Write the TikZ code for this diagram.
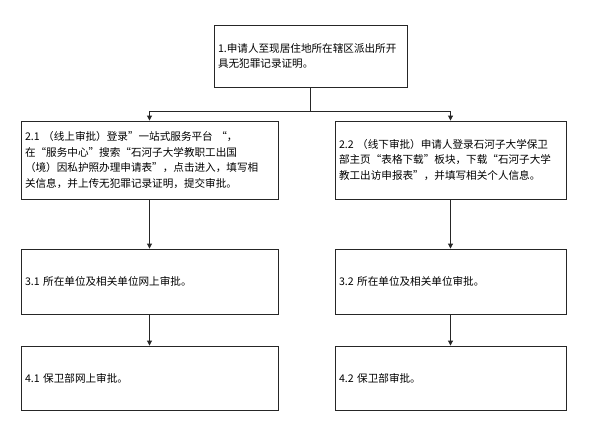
\documentclass[tikz,border=0pt]{standalone}
\usepackage{fontspec}
\setmainfont{Noto Sans CJK SC}
\usetikzlibrary{arrows.meta}
\begin{document}
\begin{tikzpicture}[x=1pt,y=-1pt,
  box/.style={draw=black!85,line width=0.9pt,rectangle,inner xsep=4pt,inner ysep=0pt,
    align=left,font=\fontsize{10.6pt}{15.5pt}\selectfont,text=black},
  conn/.style={draw=black!85,line width=0.9pt},
  arr/.style={conn,-{Triangle[width=5pt,length=5pt]}}]
\useasboundingbox (0,0) rectangle (596,444);
\node[box,text width=185pt,minimum height=62pt] (b1) at (310.5,56)
  {1.申请人至现居住地所在辖区派出所开\\具无犯罪记录证明。};
\node[box,text width=249pt,minimum height=78pt] (b21) at (149.5,160)
  {2.1 （线上审批）登录”一站式服务平台 “，\\在“服务中心”搜索“石河子大学教职工出国\\（境）因私护照办理申请表”，点击进入，填写相\\关信息，并上传无犯罪记录证明，提交审批。};
\node[box,text width=223pt,minimum height=78pt] (b22) at (450.5,160)
  {2.2 （线下审批）申请人登录石河子大学保卫\\部主页“表格下载”板块，下载“石河子大学\\教工出访申报表”，并填写相关个人信息。};
\node[box,text width=249pt,minimum height=65pt] (b31) at (149.5,281.5)
  {3.1 所在单位及相关单位网上审批。};
\node[box,text width=223pt,minimum height=65pt] (b32) at (450.5,281.5)
  {3.2 所在单位及相关单位审批。};
\node[box,text width=249pt,minimum height=64pt] (b41) at (149.5,378)
  {4.1 保卫部网上审批。};
\node[box,text width=223pt,minimum height=64pt] (b42) at (450.5,378)
  {4.2 保卫部审批。};
\draw[conn] (b1.south) -- ++(0,24) coordinate (j);
\draw[arr] (j) -| (b21.north);
\draw[arr] (j) -| (b22.north);
\draw[arr] (b21.south) -- (b31.north);
\draw[arr] (b22.south) -- (b32.north);
\draw[arr] (b31.south) -- (b41.north);
\draw[arr] (b32.south) -- (b42.north);
\end{tikzpicture}
\end{document}
